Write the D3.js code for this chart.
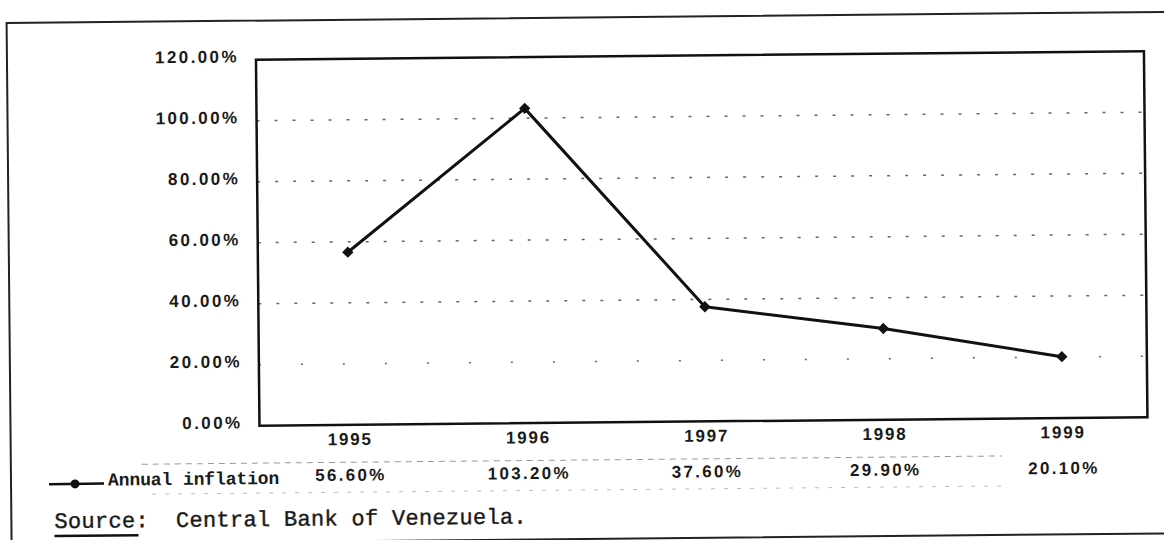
<!DOCTYPE html>
<html>
<head>
<meta charset="utf-8">
<script src="https://cdn.jsdelivr.net/npm/d3@7"></script>
<style>
body { margin:0; background:#fff; }
svg { display:block; }
.num { font-family:"Liberation Sans", Arial, sans-serif; font-weight:bold; font-size:17px; fill:#1a1a1a; }
.mono { font-family:"Liberation Mono", "DejaVu Sans Mono", monospace; fill:#1a1a1a; }
</style>
</head>
<body>
<svg id="chart" width="1164" height="540"></svg>
<script>
// data
var years = ['1995','1996','1997','1998','1999'];
var inflation = [56.6, 103.2, 37.6, 29.9, 20.1];
var valueLabels = ['56.60%','103.20%','37.60%','29.90%','20.10%'];
var yTicks = [0, 20, 40, 60, 80, 100, 120];
var gridTicks = [20, 40, 60, 80, 100];
var seriesName = 'Annual inflation';
var sourceText = 'Central Bank of Venezuela.';

var svg = d3.select('#chart');
// the scanned page is a little tilted
var g = svg.append('g').attr('transform','rotate(-0.55,582,270)');

var plot = {left:258, right:1146, top:56.6, bottom:422.6};

var x = d3.scalePoint().domain(years).range([348, 1061]);
var y = d3.scaleLinear().domain([0,120]).range([plot.bottom, plot.top]);

// outer frame
g.append('rect')
    .attr('x',9).attr('y',17.5)
    .attr('width',1175).attr('height',521.5)
    .attr('fill','none').attr('stroke','#222').attr('stroke-width',2);

// grid
g.selectAll('.grid').data(gridTicks).enter().append('line')
    .attr('class','grid')
    .attr('x1',plot.left).attr('x2',plot.right)
    .attr('y1',function(d){ return y(d); })
    .attr('y2',function(d){ return y(d); })
    .attr('stroke','#666').attr('stroke-width',1.5)
    .attr('stroke-dasharray', function(d){ return d == 20 ? '2,40' : '3,15'; });

// plot frame
g.append('rect')
    .attr('x',plot.left).attr('y',plot.top)
    .attr('width',plot.right-plot.left).attr('height',plot.bottom-plot.top)
    .attr('fill','none').attr('stroke','#111').attr('stroke-width',2.5);

// y labels
var yAxis = d3.axisLeft(y).tickValues(yTicks).tickSize(0)
    .tickFormat(function(d){ return d3.format('.2f')(d) + '%'; });
var ya = g.append('g').attr('transform','translate(241,0)').call(yAxis);
ya.select('.domain').remove();
ya.selectAll('text').attr('class','num').attr('x',0).attr('dy','0.12em')
    .style('letter-spacing','2.4px');

// x labels
var xAxis = d3.axisBottom(x).tickSize(0);
var xa = g.append('g').attr('transform','translate(0,' + 430 + ')').call(xAxis);
xa.select('.domain').remove();
xa.selectAll('text').attr('class','num').attr('y',0).attr('dy','0.75em')
    .style('letter-spacing','1.8px');

// line + markers
var line = d3.line()
    .x(function(d,i){ return x(years[i]); })
    .y(function(d){ return y(d); });

g.append('path').datum(inflation)
    .attr('d',line)
    .attr('fill','none').attr('stroke','#111').attr('stroke-width',3)
    .attr('stroke-linejoin','round');

var diamond = d3.symbol().type(d3.symbolSquare).size(64);
g.selectAll('.pt').data(inflation).enter().append('path')
    .attr('class','pt')
    .attr('d',diamond)
    .attr('transform',function(d,i){ return 'translate(' + x(years[i]) + ',' + y(d) + ') rotate(45)'; })
    .attr('fill','#111');

// data table row
g.append('line').attr('x1',140).attr('x2',1000).attr('y1',460).attr('y2',460)
    .attr('stroke','#999').attr('stroke-width',1).attr('stroke-dasharray','6,5');
g.append('line').attr('x1',150).attr('x2',1000).attr('y1',490).attr('y2',490)
    .attr('stroke','#bbb').attr('stroke-width',1).attr('stroke-dasharray','4,9');

g.selectAll('.val').data(valueLabels).enter().append('text')
    .attr('class','num')
    .attr('x',function(d,i){ return x(years[i]) + 1; })
    .attr('y',478.5)
    .attr('text-anchor','middle')
    .style('letter-spacing','2.3px')
    .text(function(d){ return d; });

// legend
g.append('line').attr('x1',47).attr('x2',102).attr('y1',479).attr('y2',479)
    .attr('stroke','#111').attr('stroke-width',2.5);
g.append('circle').attr('cx',73).attr('cy',479).attr('r',4.5).attr('fill','#111');
g.append('text').attr('class','mono')
    .attr('x',106).attr('y',481)
    .style('font-size','18px').style('font-weight','bold')
    .style('letter-spacing','-0.1px')
    .text(seriesName);

// source note
var src = g.append('text').attr('class','mono')
    .attr('x',52).attr('y',523)
    .style('font-size','22px').style('letter-spacing','0.3px')
    .style('white-space','pre')
    .attr('stroke','#1a1a1a').attr('stroke-width',0.4);
src.append('tspan').text('Source');
src.append('tspan').text(':  ' + sourceText);
g.append('line').attr('x1',52).attr('x2',136).attr('y1',531).attr('y2',531)
    .attr('stroke','#111').attr('stroke-width',2.5);
</script>
</body>
</html>
